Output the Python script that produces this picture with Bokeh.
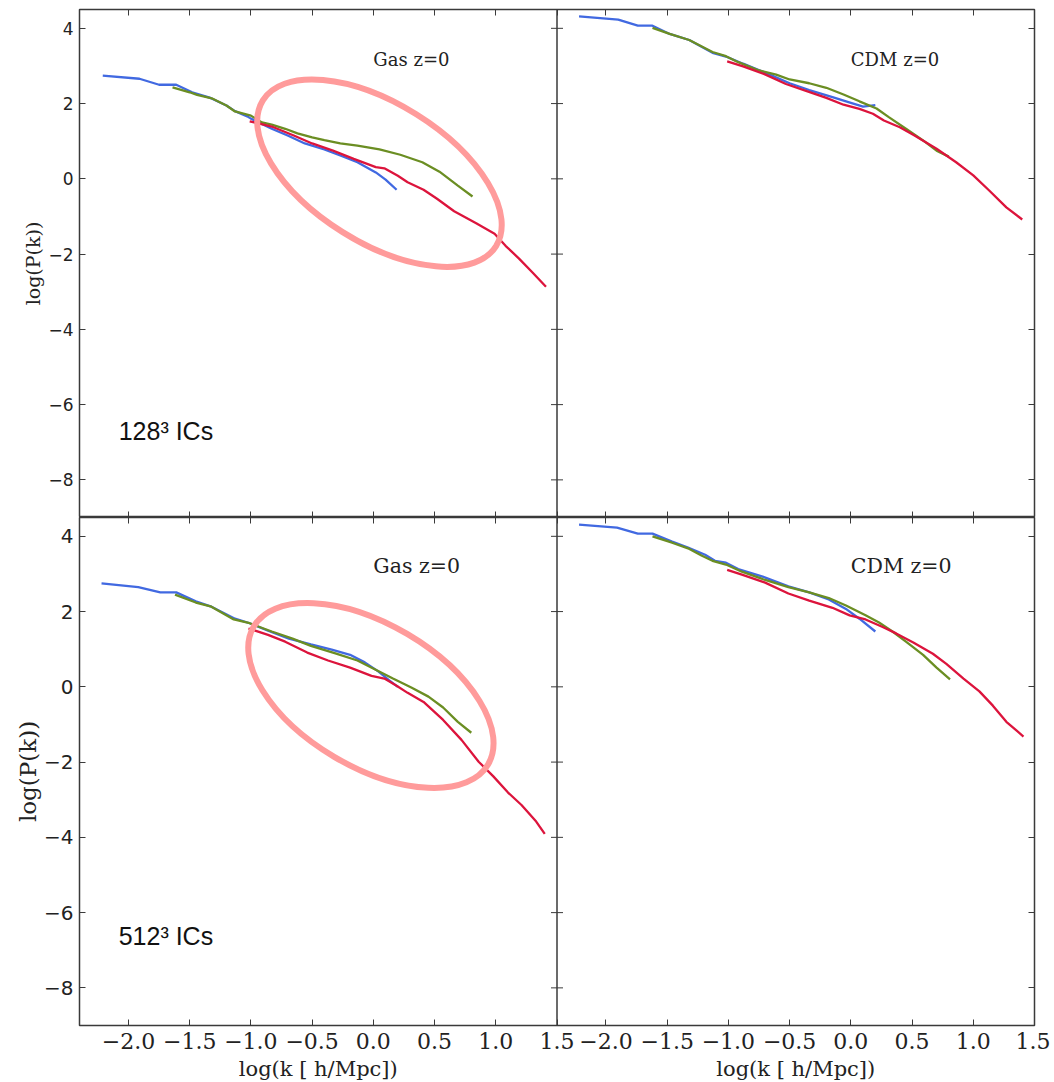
import math
from bokeh.plotting import figure
from bokeh.layouts import column
from bokeh.models import Range1d, LinearAxis, FixedTicker, Span, AllLabels
from bokeh.core.properties import value
from bokeh.embed import file_html
from bokeh.resources import INLINE

# ---------------- data ----------------
X_TICKS = [-2.0, -1.5, -1.0, -0.5, 0.0, 0.5, 1.0, 1.5]
X_TICK_LABELS = ["\u22122.0", "\u22121.5", "\u22121.0", "\u22120.5", "0.0", "0.5", "1.0", "1.5"]
Y_TICKS = [4, 2, 0, -2, -4, -6, -8]
Y_TICK_LABELS = ["4", "2", "0", "\u22122", "\u22124", "\u22126", "\u22128"]
X_LABEL = "log(k [ h/Mpc])"
Y_LABEL = "log(P(k))"

X_MIN, X_MAX = -2.4, 1.5
Y_MIN, Y_MAX = -9.0, 4.5

# 128^3 ICs, Gas z=0
gas128_blue_x = [-2.21, -1.91, -1.75, -1.61, -1.48, -1.33, -1.2, -1.13, -1.03, -1.0, -0.91, -0.83, -0.7, -0.56, -0.4, -0.27, -0.13, 0.02, 0.1, 0.19]
gas128_blue_y = [2.74, 2.66, 2.5, 2.5, 2.3, 2.15, 1.95, 1.8, 1.66, 1.6, 1.46, 1.33, 1.15, 0.94, 0.78, 0.62, 0.44, 0.17, -0.02, -0.29]
gas128_green_x = [-1.64, -1.5, -1.44, -1.32, -1.2, -1.13, -1.0, -0.91, -0.83, -0.72, -0.62, -0.5, -0.4, -0.27, -0.13, 0.05, 0.22, 0.4, 0.54, 0.69, 0.81]
gas128_green_y = [2.43, 2.3, 2.23, 2.14, 1.95, 1.79, 1.68, 1.5, 1.44, 1.33, 1.21, 1.1, 1.03, 0.94, 0.88, 0.78, 0.64, 0.44, 0.19, -0.18, -0.47]
gas128_red_x = [-1.01, -0.83, -0.65, -0.5, -0.33, -0.16, 0.02, 0.09, 0.2, 0.28, 0.41, 0.52, 0.66, 0.84, 0.99, 1.08, 1.19, 1.3, 1.41]
gas128_red_y = [1.53, 1.39, 1.15, 0.94, 0.75, 0.53, 0.31, 0.28, 0.08, -0.09, -0.29, -0.53, -0.86, -1.18, -1.46, -1.78, -2.12, -2.49, -2.87]

# 128^3 ICs, CDM z=0
cdm128_blue_x = [-2.22, -1.9, -1.74, -1.62, -1.48, -1.32, -1.13, -1.02, -0.88, -0.69, -0.5, -0.34, -0.15, 0.0, 0.1, 0.2]
cdm128_blue_y = [4.32, 4.23, 4.07, 4.07, 3.85, 3.69, 3.35, 3.25, 3.06, 2.81, 2.54, 2.36, 2.17, 2.02, 1.92, 1.96]
cdm128_green_x = [-1.62, -1.48, -1.32, -1.13, -1.02, -0.92, -0.75, -0.61, -0.5, -0.34, -0.2, -0.06, 0.07, 0.21, 0.31, 0.45, 0.59, 0.7, 0.8]
cdm128_green_y = [4.01, 3.85, 3.69, 3.37, 3.26, 3.1, 2.88, 2.77, 2.64, 2.54, 2.42, 2.24, 2.06, 1.87, 1.64, 1.33, 1.02, 0.75, 0.59]
cdm128_red_x = [-1.01, -0.88, -0.71, -0.53, -0.36, -0.2, -0.06, 0.07, 0.18, 0.27, 0.4, 0.52, 0.7, 0.86, 1.0, 1.13, 1.27, 1.4]
cdm128_red_y = [3.12, 2.99, 2.79, 2.52, 2.33, 2.15, 1.97, 1.86, 1.73, 1.55, 1.37, 1.15, 0.8, 0.44, 0.09, -0.31, -0.76, -1.08]

# 512^3 ICs, Gas z=0
gas512_blue_x = [-2.22, -1.92, -1.74, -1.61, -1.45, -1.33, -1.13, -1.01, -0.86, -0.69, -0.51, -0.34, -0.19, -0.07, 0.04, 0.13, 0.2]
gas512_blue_y = [2.75, 2.65, 2.51, 2.51, 2.27, 2.14, 1.81, 1.69, 1.49, 1.28, 1.13, 0.99, 0.85, 0.65, 0.41, 0.17, 0.0]
gas512_green_x = [-1.62, -1.45, -1.33, -1.14, -1.01, -0.83, -0.66, -0.51, -0.31, -0.13, 0.015, 0.16, 0.31, 0.45, 0.57, 0.69, 0.8]
gas512_green_y = [2.45, 2.24, 2.14, 1.79, 1.69, 1.47, 1.28, 1.09, 0.89, 0.7, 0.46, 0.22, -0.02, -0.26, -0.55, -0.93, -1.22]
gas512_red_x = [-1.02, -0.86, -0.72, -0.54, -0.37, -0.19, -0.015, 0.09, 0.19, 0.28, 0.41, 0.57, 0.72, 0.86, 0.98, 1.1, 1.21, 1.33, 1.4]
gas512_red_y = [1.55, 1.38, 1.2, 0.91, 0.7, 0.51, 0.29, 0.22, 0.03, -0.16, -0.4, -0.88, -1.41, -1.99, -2.38, -2.81, -3.14, -3.58, -3.91]

# 512^3 ICs, CDM z=0
cdm512_blue_x = [-2.22, -1.91, -1.74, -1.62, -1.46, -1.33, -1.19, -1.11, -1.02, -0.92, -0.72, -0.51, -0.34, -0.18, -0.04, 0.07, 0.2]
cdm512_blue_y = [4.31, 4.23, 4.07, 4.07, 3.86, 3.7, 3.51, 3.35, 3.3, 3.13, 2.93, 2.67, 2.51, 2.32, 2.07, 1.81, 1.47]
cdm512_green_x = [-1.62, -1.46, -1.33, -1.22, -1.13, -1.02, -0.89, -0.7, -0.51, -0.34, -0.18, -0.04, 0.12, 0.23, 0.34, 0.45, 0.59, 0.7, 0.81]
cdm512_green_y = [4.0, 3.83, 3.68, 3.49, 3.35, 3.25, 3.06, 2.84, 2.65, 2.51, 2.36, 2.16, 1.9, 1.71, 1.47, 1.2, 0.85, 0.51, 0.2]
cdm512_red_x = [-1.01, -0.89, -0.7, -0.51, -0.34, -0.15, -0.01, 0.12, 0.26, 0.37, 0.51, 0.67, 0.78, 0.92, 1.05, 1.16, 1.27, 1.41]
cdm512_red_y = [3.11, 2.98, 2.77, 2.48, 2.29, 2.1, 1.9, 1.79, 1.59, 1.42, 1.18, 0.88, 0.61, 0.22, -0.12, -0.5, -0.93, -1.32]

# hand-drawn highlight ellipses (centre in data coords of the Gas panel)
ellipse_top = dict(x=0.05, y=0.15)
ellipse_bot = dict(x=-0.02, y=-0.23)

BLUE = "#4169e1"
GREEN = "#6b8e23"
RED = "#dc143c"
PINK = "#ff9b9b"
FRAME = "#3a3a3a"

SERIF = "DejaVu Serif"
SANS = "DejaVu Sans"

PANEL_W = X_MAX - X_MIN  # width of one panel in data units


def shift(v):
    return round(v + PANEL_W, 6)


ALL_X_TICKS = X_TICKS + [shift(t) for t in X_TICKS]
X_OVERRIDES = {}
for t, l in zip(X_TICKS, X_TICK_LABELS):
    X_OVERRIDES[t] = l
for t, l in zip(X_TICKS, X_TICK_LABELS):
    X_OVERRIDES[shift(t)] = l
Y_OVERRIDES = {t: l for t, l in zip(Y_TICKS, Y_TICK_LABELS)}

X_RANGE = Range1d(X_MIN, X_MAX + PANEL_W)       # left panel coordinates
X_RANGE_R = Range1d(X_MIN - PANEL_W, X_MAX)     # right panel coordinates


def style_axis(ax, ticks, labels_on, font=None, size=None, standoff=6, overrides=None):
    ax.ticker = FixedTicker(ticks=ticks)
    ax.major_tick_in = 6
    ax.major_tick_out = 0
    ax.minor_tick_line_color = None
    ax.axis_line_color = None
    ax.major_tick_line_color = FRAME
    ax.major_tick_line_width = 1
    if labels_on:
        ax.major_label_text_font = font
        ax.major_label_text_font_size = size
        ax.major_label_text_color = "#222222"
        ax.major_label_standoff = standoff
        ax.major_label_policy = AllLabels()
        if overrides:
            ax.major_label_overrides = overrides
    else:
        ax.major_label_text_font_size = "0px"
        ax.major_label_text_color = None
        ax.major_label_standoff = 0


def make_row(height, bottom_border, top_border, show_x, fs, label_fs, label_standoff,
             txt_fs, ics_fs, gas, cdm, ell, ics_text, ics_y, gas_y):
    p = figure(width=1050, height=height,
               x_range=X_RANGE, y_range=Range1d(Y_MIN, Y_MAX),
               output_backend="svg", toolbar_location=None,
               min_border_left=79, min_border_right=16,
               min_border_top=top_border, min_border_bottom=bottom_border)
    p.extra_x_ranges = {"r": X_RANGE_R}
    p.grid.visible = False
    p.outline_line_color = FRAME
    p.outline_line_width = 1.5
    p.background_fill_color = "white"
    p.border_fill_color = "white"

    # axes
    style_axis(p.xaxis[0], ALL_X_TICKS, show_x, SERIF, fs[0], 7, X_OVERRIDES)
    style_axis(p.yaxis[0], Y_TICKS, True, SANS, fs[1], 6, Y_OVERRIDES)
    p.yaxis[0].axis_label = Y_LABEL
    p.yaxis[0].axis_label_text_font = SERIF
    p.yaxis[0].axis_label_text_font_style = "normal"
    p.yaxis[0].axis_label_text_font_size = label_fs
    p.yaxis[0].axis_label_text_color = "#222222"
    p.yaxis[0].axis_label_standoff = label_standoff

    top_ax = LinearAxis()
    style_axis(top_ax, ALL_X_TICKS, False)
    p.add_layout(top_ax, "above")
    right_ax = LinearAxis()
    style_axis(right_ax, Y_TICKS, False)
    p.add_layout(right_ax, "right")

    # divider between the two panels, with ticks on both sides
    p.add_layout(Span(location=X_MAX, dimension="height", line_color=FRAME, line_width=1.5))
    p.scatter(x=[X_MAX] * len(Y_TICKS), y=Y_TICKS, marker="dash", size=12,
              line_color=FRAME, line_width=1)

    # curves
    (gbx, gby), (ggx, ggy), (grx, gry) = gas
    (cbx, cby), (cgx, cgy), (crx, cry) = cdm
    for xs, ys, c in [(gbx, gby, BLUE), (ggx, ggy, GREEN), (grx, gry, RED)]:
        p.line(xs, ys, line_color=c, line_width=2.3)
    for xs, ys, c in [(cbx, cby, BLUE), (cgx, cgy, GREEN), (crx, cry, RED)]:
        p.line(xs, ys, line_color=c, line_width=2.3, x_range_name="r")

    # highlight ellipse
    p.ellipse(x=[ell[0]["x"]], y=[ell[0]["y"]], width=ell[1], height=ell[2],
              angle=ell[3], width_units="screen", height_units="screen",
              fill_color=None, line_color=PINK, line_width=6)

    # panel texts
    p.text(x=[0.0], y=[gas_y], text=["Gas z=0"], text_font=value(SERIF),
           text_font_size=txt_fs, text_baseline="middle", text_align="left",
           text_color="#222222")
    p.text(x=[0.0], y=[gas_y], text=["CDM z=0"], text_font=value(SERIF),
           text_font_size=txt_fs, text_baseline="middle", text_align="left",
           text_color="#222222", x_range_name="r")
    p.text(x=[-2.08], y=[ics_y], text=[ics_text], text_font=value("Liberation Sans"),
           text_font_size=ics_fs, text_baseline="middle", text_align="left",
           text_color="#111111")
    return p


p_top = make_row(517, 0, 9, False, ("16px", "17px"), "19px", 1, "18px", "25px",
                 [(gas128_blue_x, gas128_blue_y), (gas128_green_x, gas128_green_y), (gas128_red_x, gas128_red_y)],
                 [(cdm128_blue_x, cdm128_blue_y), (cdm128_green_x, cdm128_green_y), (cdm128_red_x, cdm128_red_y)],
                 (ellipse_top, 275, 139, -math.radians(32)),
                 "128\u00b3 ICs", -6.7, 3.17)

p_bot = make_row(541, 33, 0, True, ("22px", "20px"), "23px", 0, "20.5px", "25px",
                 [(gas512_blue_x, gas512_blue_y), (gas512_green_x, gas512_green_y), (gas512_red_x, gas512_red_y)],
                 [(cdm512_blue_x, cdm512_blue_y), (cdm512_green_x, cdm512_green_y), (cdm512_red_x, cdm512_red_y)],
                 (ellipse_bot, 272, 143, -math.radians(30.5)),
                 "512\u00b3 ICs", -6.62, 3.22)

# strip below the bottom row holding the two x-axis titles
p_lab = figure(width=1050, height=24, x_range=X_RANGE, y_range=Range1d(0, 1),
               output_backend="svg", toolbar_location=None,
               x_axis_location=None, y_axis_location=None,
               min_border_left=79, min_border_right=16,
               min_border_top=0, min_border_bottom=0)
p_lab.extra_x_ranges = {"r": X_RANGE_R}
p_lab.grid.visible = False
p_lab.outline_line_color = None
p_lab.background_fill_color = "white"
p_lab.border_fill_color = "white"
p_lab.text(x=[-0.45], y=[0.55], text=[X_LABEL], text_font=value(SERIF),
           text_font_size="21px", text_align="center", text_baseline="middle",
           text_color="#222222")
p_lab.text(x=[-0.45], y=[0.55], text=[X_LABEL], text_font=value(SERIF),
           text_font_size="21px", text_align="center", text_baseline="middle",
           text_color="#222222", x_range_name="r")

layout = column(p_top, p_bot, p_lab, spacing=0)

open("out.html", "w").write(file_html(layout, INLINE))
